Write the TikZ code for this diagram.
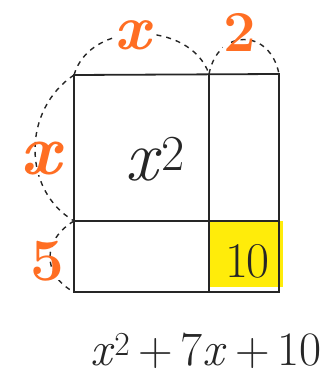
\documentclass[tikz,border=0pt]{standalone}
\definecolor{lblorange}{RGB}{255,110,35}
\definecolor{hiyellow}{RGB}{255,236,10}
\tikzset{
  edge/.style={line width=1.8pt, black!85},
  dim/.style={line width=1.4pt, dash pattern=on 5pt off 5pt, black!85},
  lbl/.style={text=lblorange, font=\fontsize{72}{72}\selectfont\bfseries, fill=white, inner sep=1pt, anchor=base, text depth=0pt},
  inner/.style={font=\fontsize{72}{72}\selectfont, text=black!85}
}
\newcommand{\vx}{\textit{x}}
\begin{document}
\begin{tikzpicture}[x=1pt,y=-1pt]
\useasboundingbox (0,0) rectangle (336,374);
% corners
\coordinate (tl) at (74,75);
\coordinate (tm) at (209,74);
\coordinate (tr) at (279,74);
\coordinate (ml) at (74,221);
\coordinate (mm) at (209,221);
\coordinate (mr) at (279,221);
\coordinate (bl) at (74,292);
\coordinate (bm) at (209,292);
\coordinate (br) at (279,292);
% yellow square
\fill[hiyellow] (210,221) rectangle (283,287);
% grid
\draw[edge] (tl) -- (tr) -- (br) -- (bl) -- cycle;
\draw[edge] (tm) -- (bm);
\draw[edge] (ml) -- (mr);
% dimension arcs
\draw[dim] (tl) .. controls (90,20) and (190,20) .. (tm);
\draw[dim] (tm) .. controls (218,28) and (270,28) .. (tr);
\draw[dim] (tl) .. controls (22,110) and (22,190) .. (ml);
\draw[dim] (ml) .. controls (42,240) and (42,275) .. (bl);
% labels
\node[lbl, inner sep=0pt, font=\fontsize{64}{64}\selectfont\bfseries] (lx) at (134,50) {\vx};
\node[lbl, text height=0.68em, font=\fontsize{58}{58}\selectfont\bfseries] (l2) at (240,52) {2};
\node[lbl, text height=0.46em] (ly) at (42,174) {\vx};
\node[lbl, inner sep=0pt, text height=0.68em, font=\fontsize{60}{60}\selectfont\bfseries] (l5) at (47,280) {5};
% inner texts
\node[inner, anchor=base] (sq) at (155,180) {\vx\textsuperscript{2}};
\node[inner, anchor=base, font=\fontsize{50}{50}\selectfont] (ten) at (247,277) {1\kern-2pt0};
\node[font=\fontsize{48}{48}\selectfont, text=black!85, inner sep=0pt, anchor=base] (eq) at (206,365) {\vx\textsuperscript{2}\,+\,7\vx\,+\,10};
\end{tikzpicture}
\end{document}
